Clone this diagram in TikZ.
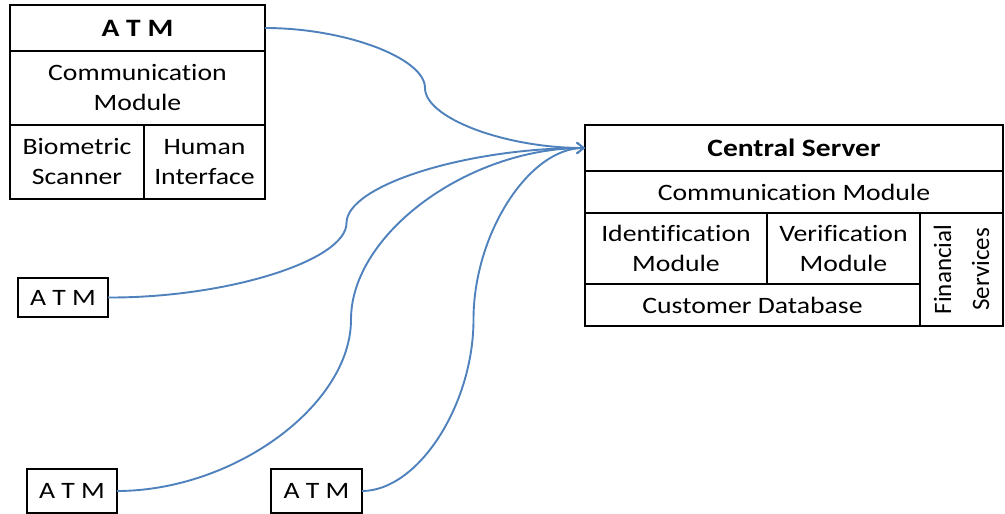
\documentclass[tikz,border=0pt]{standalone}
\usepackage{fontspec}
\setmainfont{Carlito}[FakeStretch=1.18,Ligatures=NoCommon]
\newfontfamily\rotfont{Carlito}[Ligatures=NoCommon]
\usetikzlibrary{arrows.meta}
\definecolor{linkblue}{RGB}{79,129,189}
\begin{document}
\begin{tikzpicture}[x=1pt,y=-1pt,
  cell/.style={draw, line width=2.6pt, inner sep=0pt, outer sep=0pt, align=center,
    font=\fontsize{23.5}{30}\selectfont},
  titlecell/.style={cell, font=\fontsize{25}{30}\selectfont\bfseries},
  link/.style={draw=linkblue, line width=1.9pt, -{Straight Barb[length=7pt,width=11pt,line width=1.6pt]}}]
\useasboundingbox (0,0) rectangle (1005,514);
% Big ATM
\node[titlecell, minimum width=255pt, minimum height=46pt] (atmT) at (137.5,28) {A T M};
\node[cell, minimum width=255pt, minimum height=74pt] (atmC) at (137.5,88) {Communication\\Module};
\node[cell, minimum width=134pt, minimum height=74pt] (atmB) at (77,162) {Biometric\\Scanner};
\node[cell, minimum width=121pt, minimum height=74pt] (atmH) at (204.5,162) {Human\\Interface};
% Small ATMs
\node[cell, minimum width=90pt, minimum height=39pt] (atm1) at (63,297.5) {A T M};
\node[cell, minimum width=90pt, minimum height=44pt] (atm2) at (72,491) {A T M};
\node[cell, minimum width=91pt, minimum height=44pt] (atm3) at (316.5,491) {A T M};
% Central server
\node[titlecell, minimum width=418pt, minimum height=46pt] (srvT) at (794,148) {Central Server};
\node[cell, minimum width=418pt, minimum height=42pt] (srvC) at (794,192) {Communication Module};
\node[cell, minimum width=182pt, minimum height=71pt] (srvI) at (676,248.5) {Identification\\Module};
\node[cell, minimum width=153pt, minimum height=71pt] (srvV) at (843.5,248.5) {Verification\\Module};
\node[cell, minimum width=335pt, minimum height=42pt] (srvD) at (752.5,305) {Customer Database};
\node[cell, rotate=90, minimum width=113pt, minimum height=83pt,
  font=\rotfont\fontsize{25}{38}\selectfont] (srvF) at (961.5,269.5) {Financial\\Services};
% Connectors
\path[link] (atmT.east) .. controls (345,28) and (425,58) .. (425,88)
  .. controls (425,118) and (505,148) .. (srvT.west);
\path[link] (atm1.east) .. controls (227,298) and (346.5,260.5) .. (346.5,223)
  .. controls (346.5,185.5) and (466,148) .. (srvT.west);
\path[link] (atm2.east) .. controls (234,491) and (351,405) .. (351,319.5)
  .. controls (351,234) and (468,148) .. (srvT.west);
\path[link] (atm3.east) .. controls (418,491) and (473.5,405) .. (473.5,319.5)
  .. controls (473.5,234) and (529,148) .. (srvT.west);
\end{tikzpicture}
\end{document}
